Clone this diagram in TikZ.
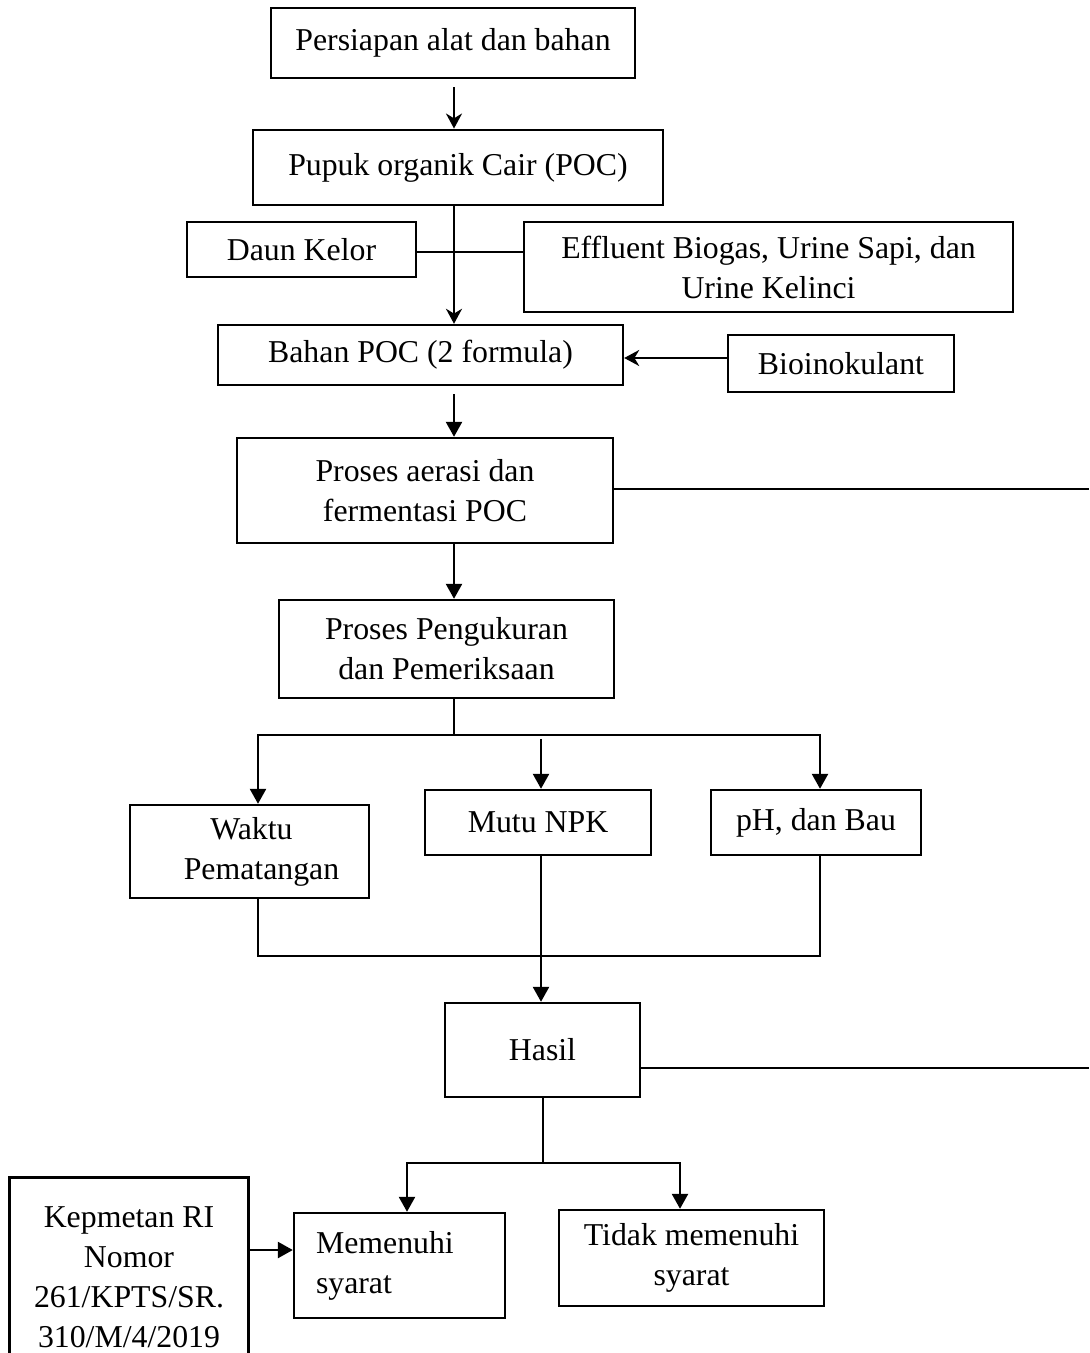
\documentclass[tikz,border=0pt]{standalone}
\usepackage{fontspec}
\setmainfont{Liberation Serif}
\usetikzlibrary{arrows.meta,calc}
\begin{document}
\begin{tikzpicture}[x=0.5pt,y=-0.5pt,
  every node/.style={font=\fontsize{15.9}{20}\selectfont},
  box/.style={draw,line width=1.2pt,rectangle,inner sep=0pt,align=center},
  ln/.style={line width=1.25pt},
  tri/.style={ln,-{Triangle[length=7.5pt,width=8pt]}},
  stl/.style={ln,-{Stealth[length=7.5pt,width=8pt,inset=2.4pt]}}]
\clip (0,0) rectangle (1089,1353);
\fill[white] (0,0) rectangle (1089,1353);

\node[box,minimum width=182pt,minimum height=35pt] (b1) at (453,43) {Persiapan alat dan bahan};
\node[box,line width=1.45pt,minimum width=205pt,minimum height=37.5pt] (b2) at (458,167.5) {Pupuk organik Cair (POC)};
\node[box,minimum width=114.5pt,minimum height=27.5pt] (daun) at (301.5,249.5) {Daun Kelor};
\node[box,minimum width=244.5pt,minimum height=45pt] (eff) at (768.5,267) {Effluent Biogas, Urine Sapi, dan\\Urine Kelinci};
\node[box,minimum width=202.5pt,minimum height=30pt] (bahan) at (420.5,355) {Bahan POC (2 formula)};
\node[box,minimum width=113pt,minimum height=28.5pt] (bio) at (841,363.5) {Bioinokulant};
\node[box,minimum width=188pt,minimum height=52.5pt] (aer) at (425,490.5) {Proses aerasi dan\\fermentasi POC};
\node[box,minimum width=167.5pt,minimum height=49pt] (peng) at (446.5,649) {Proses Pengukuran\\dan Pemeriksaan};
\node[box,minimum width=119.5pt,minimum height=46.5pt] (waktu) at (249.5,851.5) {\hspace*{2pt}Waktu\\\hspace*{12pt}Pematangan};
\node[box,minimum width=113pt,minimum height=32.5pt] (mutu) at (538,822.5) {Mutu NPK};
\node[box,minimum width=105pt,minimum height=32.5pt] (ph) at (816,822.5) {pH, dan Bau};
\node[box,minimum width=97.5pt,minimum height=47pt] (hasil) at (542.5,1050) {Hasil};
\node[box,align=left,text width=83.5pt,inner xsep=11pt,minimum height=52.5pt] (mem) at (399.5,1265.5) {Memenuhi\\syarat};
\node[box,minimum width=132.5pt,minimum height=48pt] (tid) at (691.5,1258) {Tidak memenuhi\\syarat};
\node[rectangle,inner sep=0pt,align=center,minimum width=119pt,minimum height=99pt] (kep) at (129,1277) {Kepmetan RI\\Nomor\\261/KPTS/SR.\\310/M/4/2019};
\draw[ln] (kep.south west) |- (kep.north east) -- (kep.south east);

\coordinate (rA) at (1089,489);
\coordinate (rB) at (1089,1068);
\coordinate (j1) at (454,735);
\coordinate (j2) at (543,1163);
\coordinate (yb) at (0,358);
\coordinate (yd) at (0,252);

% top flow
\draw[stl] ([yshift=-4pt]j1 |- b1.south) -- (j1 |- b2.north);
\draw[stl] (j1 |- b2.south) -- (j1 |- bahan.north);
\draw[ln] (daun.east |- yd) -- (eff.west |- yd);
\draw[stl] (bio.west |- yb) -- (bahan.east |- yb);
\draw[tri] ([yshift=-4pt]j1 |- bahan.south) -- (j1 |- aer.north);
\draw[ln] (aer.east |- rA) -- (rA);
\draw[tri] (j1 |- aer.south) -- (j1 |- peng.north);

% branching
\draw[ln] (j1 |- peng.south) -- (j1);
\draw[tri] (j1) -| ([xshift=4.25pt]waktu.north);
\draw[tri] (j1) -| ([xshift=2pt]ph.north);
\draw[tri] ([xshift=1.5pt,yshift=25pt]mutu.north) -- ([xshift=1.5pt]mutu.north);

% merging
\draw[ln] ([xshift=4.25pt]waktu.south) -- ++(0,57) -| ([xshift=2pt]ph.south);
\draw[tri] ([xshift=1.5pt]mutu.south) -- ([xshift=1.5pt]mutu.south |- hasil.north);
\draw[ln] (hasil.east |- rB) -- (rB);

% result
\draw[ln] (j2 |- hasil.south) -- (j2);
\draw[tri] (j2) -| ([xshift=3.75pt]mem.north);
\draw[tri] (j2) -| ([xshift=-5.75pt]tid.north);
\draw[tri] ([yshift=13.5pt]kep.east) -- ([yshift=13.5pt]kep.east -| mem.west);
\end{tikzpicture}
\end{document}
